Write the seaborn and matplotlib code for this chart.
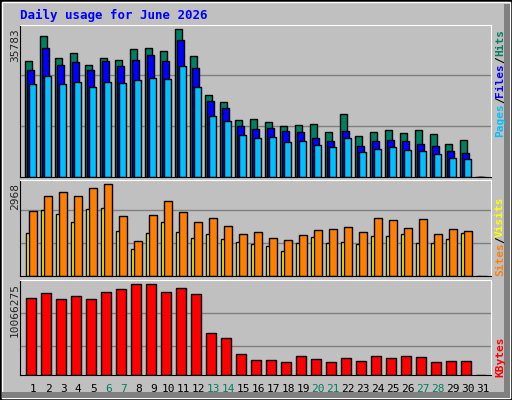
import numpy as np
import matplotlib
matplotlib.use('Agg')
import matplotlib.pyplot as plt
import matplotlib.patches as mpatches
import seaborn as sns

days = list(range(1, 32))
hits = [27976, 34021, 28702, 29911, 27009, 28702, 28218, 30878, 31120, 30394, 35783, 29185,
        19755, 18062, 13710, 13952, 13226, 12259, 12501, 12743, 10808, 15161, 9841, 10808,
        11292, 10567, 11292, 10325, 7907, 8874, 0]
files = [25800, 31120, 27009, 27734, 25800, 27976, 26767, 28218, 29427, 27976, 33054, 26284,
         18304, 16612, 12259, 11534, 11776, 11050, 10808, 9358, 8632, 11050, 7423, 8632,
         8874, 8632, 7907, 7423, 6214, 5731, 0]
pages = [22415, 24349, 22415, 22898, 21689, 22898, 22657, 23382, 23866, 23624, 26767, 21689,
         14677, 13468, 10083, 9358, 9599, 8390, 8632, 7665, 7181, 9358, 5972, 6698,
         7181, 6456, 6214, 5489, 4522, 4280, 0]
sites = [1387, 2129, 2000, 1742, 2162, 2194, 1452, 871, 1387, 1742, 1420, 1226, 1355, 1194,
         1097, 1032, 968, 807, 1065, 1258, 1065, 1097, 1032, 1290, 1290, 1355, 1065, 1065,
         1194, 1387, 0]
visits = [2097, 2581, 2710, 2581, 2839, 2968, 1936, 1129, 1968, 2420, 2065, 1742, 1871, 1613,
          1355, 1420, 1226, 1161, 1323, 1484, 1516, 1581, 1420, 1871, 1807, 1549, 1839, 1355,
          1516, 1452, 0]
kbytes = [8518000, 9071000, 8407000, 8739000, 8407000, 9181000, 9513000, 10066275, 10066275,
          9181000, 9624000, 8960000, 4646000, 4093000, 2323000, 1659000, 1659000, 1438000,
          2102000, 1770000, 1438000, 1881000, 1549000, 2102000, 1881000, 2102000, 1991000,
          1438000, 1549000, 1549000, 0]
weekend = [6, 7, 13, 14, 20, 21, 27, 28]

sns.set_style('white')
plt.rcParams['font.family'] = ['DejaVu Sans Mono']

BG = '#c0c0c0'
W, H = 512, 400
fig = plt.figure(figsize=(W / 100, H / 100), dpi=100)
fig.patch.set_facecolor(BG)

# bevel frame
fig.add_artist(mpatches.Rectangle((0, 0), 1, 1, transform=fig.transFigure, fill=False,
                                  edgecolor='black', linewidth=2))
fig.add_artist(mpatches.Rectangle((2 / W, 2 / H), 1 - 4 / W, 1 - 4 / H, transform=fig.transFigure,
                                  fill=False, edgecolor='white', linewidth=1))
fig.add_artist(mpatches.Rectangle((1 - 8 / W, 2 / H), 6 / W, 1 - 6 / H, transform=fig.transFigure,
                                  facecolor='#808080', edgecolor='none'))
fig.add_artist(mpatches.Rectangle((2 / W, 2 / H), 1 - 4 / W, 6 / H, transform=fig.transFigure,
                                  facecolor='#808080', edgecolor='none'))

x = np.array(days, dtype=float)
L, R = 20 / W, 491 / W


def make_ax(top, bottom, ymax, grid):
    ax = fig.add_axes([L, 1 - bottom / H, R - L, (bottom - top) / H])
    ax.set_facecolor(BG)
    ax.set_xlim(0.12, 31.53)
    ax.set_ylim(0, ymax)
    for g in grid:
        ax.axhline(g, color='#808080', linewidth=1, zorder=0)
    ax.set_xticks([])
    ax.set_yticks([])
    ax.spines['top'].set_color('white')
    ax.spines['right'].set_color('white')
    ax.spines['left'].set_color('black')
    ax.spines['bottom'].set_color('black')
    return ax


bw = 0.47
kw = dict(align='edge', edgecolor='black', linewidth=1)

ax1 = make_ax(25, 177, 36750, [12331, 24662])
ax1.bar(x - 0.53, hits, bw, color='#008060', **kw)
ax1.bar(x - 0.40, files, bw, color='#0000ff', **kw)
ax1.bar(x - 0.26, pages, bw, color='#00c0ff', **kw)

ax2 = make_ax(180, 276, 3097, [1065, 2129])
ax2.bar(x - 0.50, sites, 0.29, color='#ffff00', **kw)
ax2.bar(x - 0.26, visits, 0.49, color='#ff8000', **kw)

ax3 = make_ax(280, 375, 10510000, [3208000, 6858000])
ax3.bar(x - 0.47, kbytes, 0.69, color='#ff0000', **kw)

fig.text(20 / W, 1 - 15 / H, 'Daily usage for June 2026', color='#0000ff', fontsize=9,
         fontweight='bold', va='center', ha='left')

for ypx, label in [(28, '35783'), (183, '2968'), (283, '10066275')]:
    fig.text(15 / W, 1 - ypx / H, label, rotation=90, fontsize=8, va='top', ha='center')

for d in days:
    col = '#008060' if d in weekend else 'black'
    fig.text((20 + (d - 0.12 + 0.0) * 471 / 31.41) / W, 1 - 389 / H, str(d), color=col,
             fontsize=8, ha='center', va='center')


def side(parts):
    for ypx, txt, col in parts:
        fig.text(500 / W, 1 - ypx / H, txt, rotation=90, color=col, fontsize=8,
                 va='bottom', ha='center', fontweight='bold')


side([(137, 'Pages', '#00c0ff'), (103, '/', 'black'), (97, 'Files', '#0000ff'),
      (63, '/', 'black'), (56, 'Hits', '#008060')])
side([(276, 'Sites', '#ff8000'), (243, '/', 'black'), (237, 'Visits', '#ffff00')])
side([(377, 'KBytes', '#ff0000')])

fig.savefig('out.png', dpi=100, facecolor=BG)
